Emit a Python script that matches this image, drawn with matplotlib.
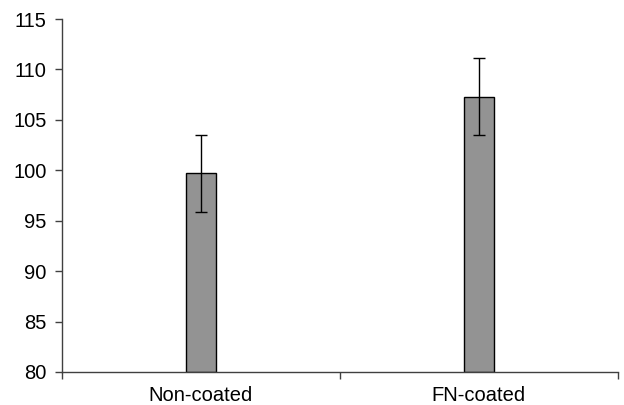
import numpy as np
import matplotlib
matplotlib.use("Agg")
import matplotlib.pyplot as plt

plt.rcParams["font.family"] = ["Liberation Sans", "DejaVu Sans"]

# --- data --- #
categories = ["Non-coated", "FN-coated"]
means = [99.7, 107.3]
errors = [3.8, 3.8]
y_ticks = [80, 85, 90, 95, 100, 105, 110, 115]

fig = plt.figure(figsize=(6.24, 4.05), dpi=100)
ax = fig.add_axes([0.0994, 0.0815, 0.8906, 0.8715])

x = np.arange(len(categories))
ax.bar(
    x, [m - 80 for m in means], bottom=80, width=0.108,
    color="#939393", edgecolor="black", linewidth=1.0, zorder=2,
)
ax.errorbar(
    x, means, yerr=errors, fmt="none", ecolor="black",
    elinewidth=1.0, capsize=4, capthick=1.0, zorder=3,
)

ax.set_xlim(-0.5, len(categories) - 0.5)
ax.set_ylim(80, 115)
ax.set_yticks(y_ticks)

# category boundaries as major ticks, labels on minor ticks
ax.set_xticks(np.arange(len(categories) + 1) - 0.5)
ax.set_xticklabels([])
ax.set_xticks(x, minor=True)
ax.set_xticklabels(categories, minor=True)
ax.tick_params(axis="x", which="minor", length=0, pad=10, labelsize=14.5)
ax.tick_params(axis="x", which="major", length=5, direction="out",
               color="#404040", width=1.0)
ax.tick_params(axis="y", length=5, direction="out", color="#404040",
               width=1.0, labelsize=14.5, pad=6)

for side in ["top", "right"]:
    ax.spines[side].set_visible(False)
for side in ["left", "bottom"]:
    ax.spines[side].set_color("#404040")
    ax.spines[side].set_linewidth(1.0)

fig.savefig("out.png", dpi=100)
